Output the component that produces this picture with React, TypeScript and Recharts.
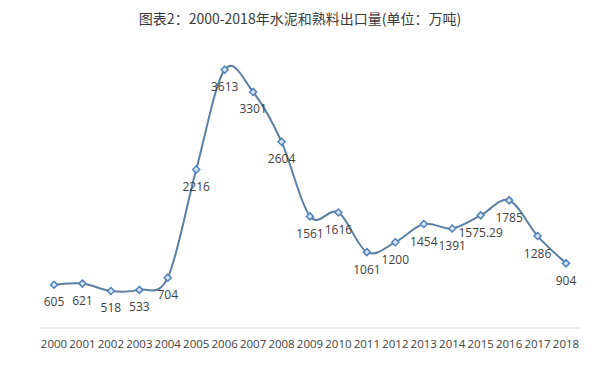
import { LineChart, Line, XAxis, YAxis, LabelList } from 'recharts';

const years = ['2000', '2001', '2002', '2003', '2004', '2005', '2006', '2007', '2008', '2009',
  '2010', '2011', '2012', '2013', '2014', '2015', '2016', '2017', '2018'];
const exports = [605, 621, 518, 533, 704, 2216, 3613, 3301, 2604, 1561,
  1616, 1061, 1200, 1454, 1391, 1575.29, 1785, 1286, 904];

const data = years.map((year, i) => ({ year, value: exports[i] }));

// Excel-style smoothed line (Catmull-Rom through the points)
const smoothCurve = (context: any) => {
  let pts: number[][] = [];
  return {
    areaStart() {},
    areaEnd() {},
    lineStart() {
      pts = [];
    },
    point(x: number, y: number) {
      pts.push([+x, +y]);
    },
    lineEnd() {
      if (!pts.length) return;
      context.moveTo(pts[0][0], pts[0][1]);
      for (let i = 0; i < pts.length - 1; i++) {
        const p0 = pts[Math.max(i - 1, 0)];
        const p1 = pts[i];
        const p2 = pts[i + 1];
        const p3 = pts[Math.min(i + 2, pts.length - 1)];
        context.bezierCurveTo(
          p1[0] + (p2[0] - p0[0]) / 6,
          p1[1] + (p2[1] - p0[1]) / 6,
          p2[0] - (p3[0] - p1[0]) / 6,
          p2[1] - (p3[1] - p1[1]) / 6,
          p2[0],
          p2[1],
        );
      }
    },
  };
};

const Diamond = (props: any) => {
  const { cx, cy } = props;
  if (cx == null || cy == null) return null;
  const r = 3.5;
  return (
    <path
      d={`M${cx},${cy - r}L${cx + r},${cy}L${cx},${cy + r}L${cx - r},${cy}Z`}
      fill="#dce6f2"
      stroke="#4f81bd"
      strokeWidth={1.5}
    />
  );
};

const font = '"Open Sans", "Noto Sans CJK SC", sans-serif';

export default function App() {
  return (
    <div style={{ position: 'absolute', left: 0, top: 0, width: 600, height: 372, background: '#fff' }}>
      <div
        style={{
          position: 'absolute',
          top: 8,
          width: 600,
          textAlign: 'center',
          fontFamily: '"Noto Sans CJK SC", sans-serif',
          fontSize: 14,
          color: '#3a3a3a',
        }}
      >
        图表2：2000-2018年水泥和熟料出口量(单位：万吨)
      </div>
      <LineChart
        width={600}
        height={372}
        data={data}
        margin={{ top: 42, right: 20, left: 40, bottom: 14 }}
      >
        <XAxis
          dataKey="year"
          height={30}
          padding={{ left: 14, right: 14 }}
          axisLine={{ stroke: '#d9d9d9' }}
          tickLine={false}
          interval={0}
          tick={{ fontSize: 11.5, fill: '#404040', fontFamily: font }}
          tickMargin={6}
        />
        <YAxis hide domain={[0, 4000]} />
        <Line
          type={smoothCurve as any}
          dataKey="value"
          stroke="#5a7fa3"
          strokeWidth={2}
          dot={<Diamond />}
          activeDot={false}
          isAnimationActive={false}
        >
          <LabelList
            dataKey="value"
            position="bottom"
            offset={13}
            style={{ fontSize: 12, fill: '#404040', fontFamily: font }}
          />
        </Line>
      </LineChart>
    </div>
  );
}
